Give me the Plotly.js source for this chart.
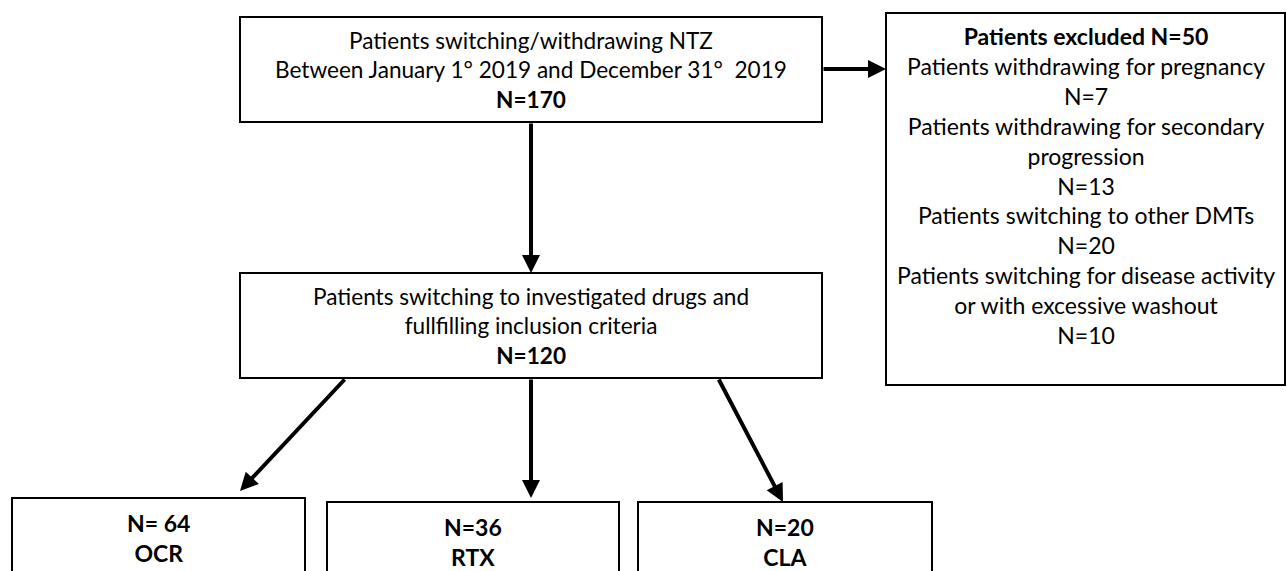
<!DOCTYPE html>
<html>
<head>
<meta charset="utf-8">
<script src="https://cdn.plot.ly/plotly-3.0.1.min.js"></script>
<style>html,body{margin:0;padding:0;background:#fff;}#chart{width:1287px;height:571px;}</style>
</head>
<body>
<div id="chart"></div>
<script>
// ---- data ----
const stageLabels = [
  "Patients switching/withdrawing NTZ<br>Between January 1° 2019 and December 31°  2019",
  "Patients switching to investigated drugs and<br>fullfilling inclusion criteria"
];
const stageN = [170, 120];
const excludedTotal = 50;
const exclusionReasons = [
  "Patients withdrawing for pregnancy",
  "Patients withdrawing for secondary<br>progression",
  "Patients switching to other DMTs",
  "Patients switching for disease activity<br>or with excessive washout"
];
const exclusionN = [7, 13, 20, 10];
const drugs = ["OCR", "RTX", "CLA"];
const drugN = [64, 36, 20];
const drugNPrefix = ["N= ", "N=", "N="];

// ---- layout geometry ----
const W = 1287, H = 571;
const FONT = "Lato, 'Open Sans', sans-serif";
const stageBoxes = [ {x0:240, x1:822, y0:17, y1:122}, {x0:240, x1:822, y0:273, y1:378} ];
const exclBox = {x0:886, x1:1285, y0:13, y1:385};
const drugBoxes = [ {x0:12, x1:305, y0:498, y1:620}, {x0:327, x1:619, y0:502, y1:620}, {x0:638, x1:932, y0:502, y1:620} ];
const drugArrowStart = [ [346,378], [531,378], [718,378] ];
const drugArrowEnd = [ [240,491], [531,498], [783,502] ];

const shapes = [];
function box(b){ shapes.push({type:'rect', xref:'x', yref:'y', x0:b.x0, x1:b.x1, y0:b.y0, y1:b.y1, line:{color:'#000', width:2}, fillcolor:'rgba(0,0,0,0)'}); }
stageBoxes.forEach(box); box(exclBox); drugBoxes.forEach(box);

const annotations = [];
function txt(x, y, text, fs){
  annotations.push({x:x, y:y, xref:'x', yref:'y', text:text, showarrow:false, xanchor:'center', yanchor:'middle', align:'center', font:{family:FONT, size:fs, color:'#000'}});
}
function arrow(from, to){
  annotations.push({x:to[0], y:to[1], ax:from[0], ay:from[1], xref:'x', yref:'y', axref:'x', ayref:'y', text:'', showarrow:true, arrowhead:2, arrowsize:0.9, arrowwidth:4, arrowcolor:'#000', standoff:0, startstandoff:0});
}

// stage boxes
stageLabels.forEach((lab, i) => {
  const b = stageBoxes[i];
  txt((b.x0+b.x1)/2, (b.y0+b.y1)/2, lab + "<br><b>N=" + stageN[i] + "</b>", 22.6);
});
// exclusion box
let exclText = "<b>Patients excluded N=" + excludedTotal + "</b>";
exclusionReasons.forEach((r, i) => { exclText += "<br>" + r + "<br>N=" + exclusionN[i]; });
txt((exclBox.x0+exclBox.x1)/2, 185, exclText, 23);
// drug boxes
drugs.forEach((d, i) => {
  const b = drugBoxes[i];
  txt((b.x0+b.x1)/2, b.y0 + 40, "<b>" + drugNPrefix[i] + drugN[i] + "<br>" + d + "</b>", 23);
});

// arrows
arrow([531,122], [531,273]);
arrow([822,69], [886,69]);
drugs.forEach((d, i) => arrow(drugArrowStart[i], drugArrowEnd[i]));

const layout = {
  width: W, height: H,
  margin: {l:0, r:0, t:0, b:0},
  paper_bgcolor: '#fff', plot_bgcolor: '#fff',
  xaxis: {range:[0, W], visible:false, fixedrange:true},
  yaxis: {range:[H, 0], visible:false, fixedrange:true},
  shapes: shapes,
  annotations: annotations,
  showlegend: false
};
Plotly.newPlot('chart', [], layout, {displayModeBar:false, staticPlot:true});
</script>
</body>
</html>
